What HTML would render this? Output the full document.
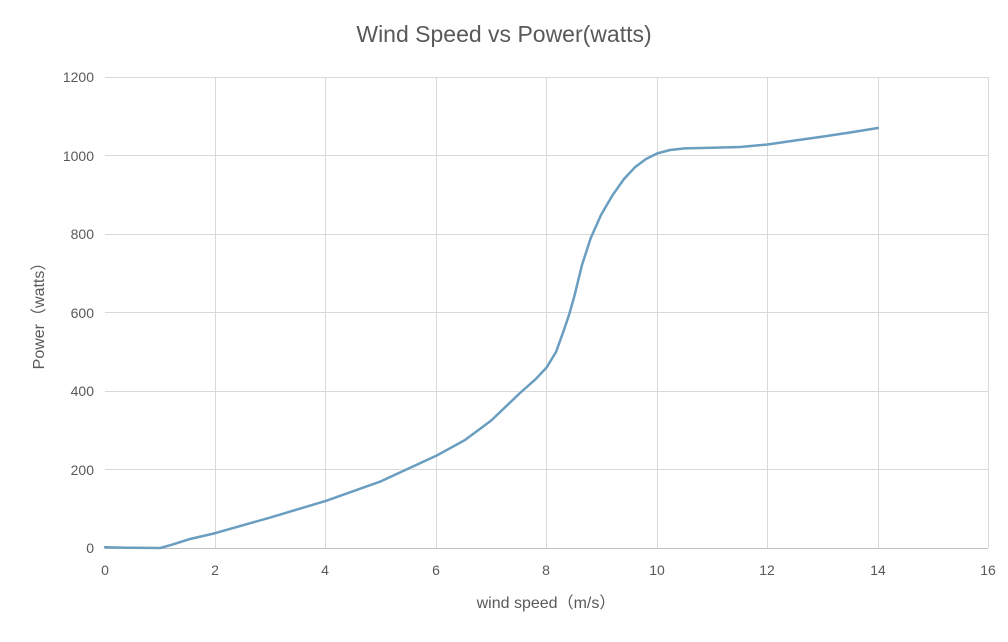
<!DOCTYPE html>
<html><head><meta charset="utf-8"><style>body{margin:0;background:#fff}</style></head><body>
<svg width="1008" height="637" xmlns="http://www.w3.org/2000/svg" font-family="Liberation Sans, Noto Sans CJK SC, sans-serif" fill="#595959">
<rect width="1008" height="637" fill="#fff"/>
<text x="504" y="42" font-size="23" text-anchor="middle">Wind Speed vs Power(watts)</text>
<g stroke="#d9d9d9" stroke-width="1">
<line x1="105" y1="77.5" x2="988" y2="77.5"/><line x1="105" y1="155.5" x2="988" y2="155.5"/><line x1="105" y1="234.5" x2="988" y2="234.5"/><line x1="105" y1="312.5" x2="988" y2="312.5"/><line x1="105" y1="391.5" x2="988" y2="391.5"/><line x1="105" y1="469.5" x2="988" y2="469.5"/>
<line x1="215.5" y1="77" x2="215.5" y2="548"/><line x1="325.5" y1="77" x2="325.5" y2="548"/><line x1="436.5" y1="77" x2="436.5" y2="548"/><line x1="546.5" y1="77" x2="546.5" y2="548"/><line x1="657.5" y1="77" x2="657.5" y2="548"/><line x1="767.5" y1="77" x2="767.5" y2="548"/><line x1="878.5" y1="77" x2="878.5" y2="548"/><line x1="988.5" y1="77" x2="988.5" y2="548"/>
<line x1="105" y1="548.5" x2="988" y2="548.5" stroke="#bfbfbf"/>
</g>
<g font-size="14" text-anchor="end">
<text x="94" y="82">1200</text><text x="94" y="161">1000</text><text x="94" y="239">800</text><text x="94" y="318">600</text><text x="94" y="396">400</text><text x="94" y="475">200</text><text x="94" y="553">0</text>
</g>
<g font-size="14" text-anchor="middle">
<text x="105" y="575">0</text><text x="215" y="575">2</text><text x="325" y="575">4</text><text x="436" y="575">6</text><text x="546" y="575">8</text><text x="657" y="575">10</text><text x="767" y="575">12</text><text x="878" y="575">14</text><text x="988" y="575">16</text>
</g>
<text x="546" y="608" font-size="16" text-anchor="middle">wind speed（m/s）</text>
<text transform="translate(44,312) rotate(-90)" font-size="16" text-anchor="middle">Power（watts）</text>
<polyline fill="none" stroke="#6a9ec0" stroke-width="2.5" stroke-linejoin="round" stroke-linecap="round" points="105,547.2 130,547.8 160.2,548 171.2,544.9 190,539 215.4,533.1 270.6,517.4 325.8,500.9 381,481.3 436.2,455.8 465,440 491.4,420.4 520,393 535.6,379.2 546.6,367.5 556,352 563.2,332.1 569,315 574.2,296.8 582,265 590.8,237.9 601,215 612.8,194.8 624,179 634.9,167.3 646,159 657,153.5 670,150 684.6,148.4 712.2,147.7 740,147 767.4,144.5 795,140.5 822.6,136.6 850,132.5 877.8,128"/>
</svg>
</body></html>
